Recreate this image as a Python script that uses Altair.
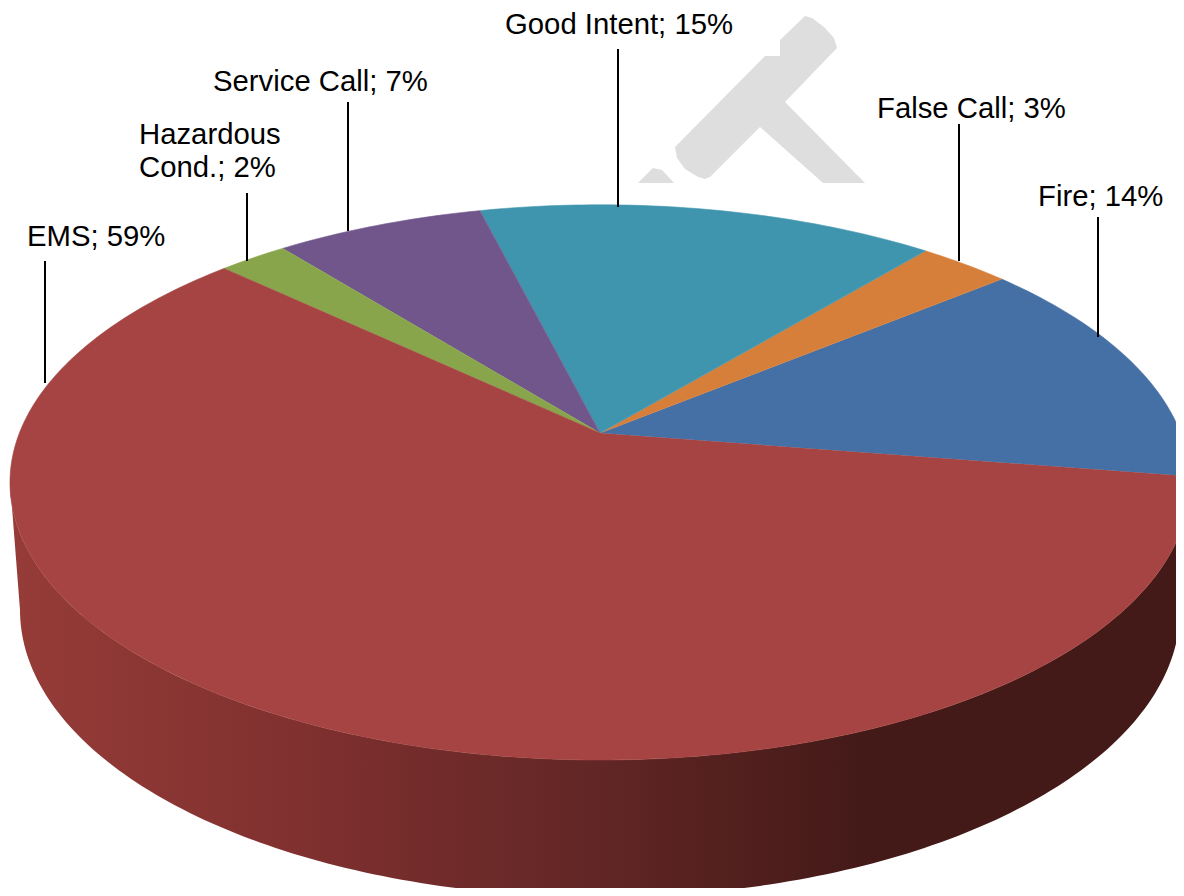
import math
import altair as alt
import pandas as pd

# Chart values
categories = ["Fire", "False Call", "Good Intent", "Service Call", "Hazardous Cond.", "EMS"]
shares = [13.5, 3.0, 14.9, 6.8, 2.25, 59.55]
colors = ["#4570A5", "#D67F3B", "#4095AE", "#70568B", "#89A54C", "#A54442"]
start_angle = 9.0  # degrees below the horizontal, running anticlockwise on screen

# Label text and leader positions, in picture pixels
label_lines = ["Good Intent; 15%", "Service Call; 7%", "Hazardous", "Cond.; 2%", "EMS; 59%", "False Call; 3%", "Fire; 14%"]
label_x = [505, 213, 139, 139, 27, 877, 1038]
label_y = [34, 91, 144, 177, 246, 118, 206]
leader_x = [618, 348, 247, 45, 959, 1098]
leader_top = [49, 102, 193, 261, 124, 217]
leader_end = [207, 231, 261, 383, 261, 337]

# Watermark outline
hammer_x = [805, 812, 824, 834, 837, 785, 865, 823, 760, 710, 705, 698, 685, 677, 675, 765, 780, 780, 805]
hammer_y = [16, 18, 27, 38, 48, 102, 183, 183, 127, 177, 179, 177, 169, 158, 147, 56, 56, 40, 16]
hammer2_x = [638, 653, 662, 674]
hammer2_y = [183, 168, 170, 183]

# Perspective of the disc
CX, CY, A, B, K = 600, 433, 580.6, 268.8, 0.178
BASE_CX, BASE_CY, BASE_A, BASE_B = 600, 610, 580, 287


def top_point(deg):
    t = math.radians(deg)
    u, v = math.cos(t), math.sin(t)
    w = 1 - K * v
    return CX + A * u / w, CY + B * v / w


rows = []
angle = start_angle
for name, share in zip(categories, shares):
    rows.append({"slice": name, "i": 0, "x": CX, "y": CY})
    sweep = share * 3.6
    n = max(6, int(sweep))
    for j in range(n + 1):
        px, py = top_point(angle - sweep * j / n)
        rows.append({"slice": name, "i": j + 1, "x": px, "y": py})
    angle -= sweep
slices = pd.DataFrame(rows)

wall = []
i = 0
for deg in range(10, 171):
    px, py = top_point(deg)
    wall.append({"i": i, "x": px, "y": py})
    i += 1
for deg in range(180, -1, -1):
    t = math.radians(deg)
    wall.append({"i": i, "x": BASE_CX + BASE_A * math.cos(t), "y": BASE_CY + BASE_B * math.sin(t)})
    i += 1
wall = pd.DataFrame(wall)

x_scale = alt.Scale(domain=[8, 1176], range=[0, 1168], nice=False, zero=False)
y_scale = alt.Scale(domain=[8, 888], range=[0, 880], nice=False, zero=False)
X = alt.X("x:Q", scale=x_scale, axis=None)
Y = alt.Y("y:Q", scale=y_scale, axis=None)

hammer = pd.concat([
    pd.DataFrame({"part": "a", "i": range(len(hammer_x)), "x": hammer_x, "y": hammer_y}),
    pd.DataFrame({"part": "b", "i": range(len(hammer2_x)), "x": hammer2_x, "y": hammer2_y}),
])
hammer_layer = alt.Chart(hammer).mark_line(fill="#DEDEDE", strokeWidth=0, clip=True).encode(
    x=X, y=Y, order="i:Q", detail="part:N")

wall_fill = alt.Gradient(
    gradient="linear", x1=0, x2=1, y1=0, y2=0,
    stops=[
        alt.GradientStop(offset=0.0, color="#963C38"),
        alt.GradientStop(offset=0.25, color="#7F302F"),
        alt.GradientStop(offset=0.5, color="#612625"),
        alt.GradientStop(offset=0.72, color="#441A18"),
        alt.GradientStop(offset=1.0, color="#441A18"),
    ],
)
wall_layer = alt.Chart(wall).mark_line(fill=wall_fill, strokeWidth=0, clip=True).encode(
    x=X, y=Y, order="i:Q")

pie_scale = alt.Scale(domain=categories, range=colors)
slice_layer = alt.Chart(slices).mark_line(strokeWidth=0.6, clip=True).encode(
    x=X, y=Y, order="i:Q",
    fill=alt.Fill("slice:N", scale=pie_scale, legend=None),
    stroke=alt.Stroke("slice:N", scale=pie_scale, legend=None),
)

leaders = pd.DataFrame({"x": leader_x, "y": leader_top, "y2": leader_end})
leader_layer = alt.Chart(leaders).mark_rule(color="#000000", strokeWidth=2).encode(
    x=X, y=Y, y2="y2:Q")

labels = pd.DataFrame({"x": label_x, "y": label_y, "t": label_lines})
label_layer = alt.Chart(labels).mark_text(
    align="left", baseline="alphabetic", font="Liberation Sans", fontSize=29.3, color="#000000"
).encode(x=X, y=Y, text="t:N")

chart = alt.layer(hammer_layer, wall_layer, slice_layer, leader_layer, label_layer).properties(
    width=1168, height=880, padding=0,
    background="#FFFFFF",
    autosize=alt.AutoSizeParams(type="none"),
).configure_view(stroke=None)

chart.save("out.html", embed_options={"renderer": "svg", "actions": False})
